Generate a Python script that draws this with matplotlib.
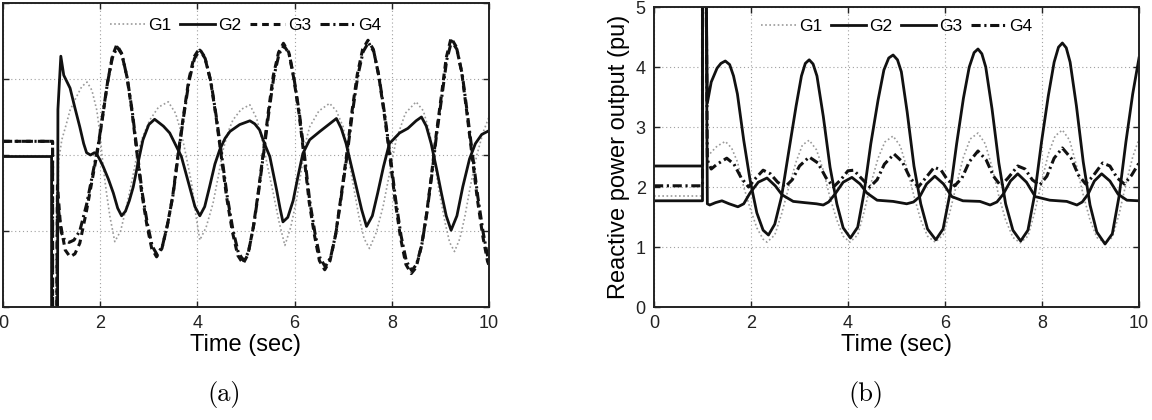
import numpy as np
import matplotlib
matplotlib.use("Agg")
from matplotlib import pyplot as plt

plt.rcParams['font.family'] = ['Liberation Sans', 'DejaVu Sans']

# ---- panel (a) data: (time, value) ----
g1a_t = [0, 1.0, 1.0, 1.12, 1.14, 1.21, 1.3, 1.38, 1.5, 1.62, 1.73, 1.83, 1.93, 2.0, 2.06, 2.13, 2.2, 2.3,
         2.42, 2.54, 2.65, 2.75, 2.88, 3.02, 3.2, 3.4, 3.55, 3.67, 3.78, 3.88, 3.97, 4.05, 4.18, 4.32, 4.43,
         4.53, 4.63, 4.73, 4.9, 5.08, 5.22, 5.35, 5.46, 5.56, 5.68, 5.8, 5.92, 6.04, 6.14, 6.24, 6.31, 6.5,
         6.72, 6.86, 7.0, 7.1, 7.2, 7.32, 7.43, 7.54, 7.68, 7.82, 7.96, 8.09, 8.28, 8.5, 8.65, 8.78, 8.88,
         8.98, 9.1, 9.19, 9.29, 9.4, 9.5, 9.62, 9.75, 9.88, 10]
g1a_v = [1.98, 1.98, -1, -1, 1.9, 2.2, 2.4, 2.59, 2.75, 2.9, 2.96, 2.85, 2.59, 2.25, 1.85, 1.5, 1.19, 0.86,
         1.0, 1.32, 1.65, 1.98, 2.25, 2.46, 2.63, 2.7, 2.55, 2.29, 1.95, 1.63, 1.2, 0.88, 1.05, 1.36, 1.72,
         2.07, 2.3, 2.46, 2.6, 2.66, 2.48, 2.15, 1.8, 1.5, 1.12, 0.81, 1.05, 1.41, 1.8, 2.2, 2.37, 2.58,
         2.68, 2.58, 2.37, 2.0, 1.63, 1.2, 0.9, 0.77, 0.98, 1.32, 1.78, 2.2, 2.55, 2.7, 2.58, 2.29, 1.9,
         1.5, 1.1, 0.85, 0.73, 0.9, 1.18, 1.6, 2.0, 2.3, 2.5]

g2a_t = [0, 1.0, 1.0, 1.12, 1.13, 1.19, 1.25, 1.38, 1.48, 1.58, 1.66, 1.72, 1.8, 1.88, 1.93, 2.0, 2.06, 2.17,
         2.27, 2.36, 2.44, 2.52, 2.6, 2.68, 2.78, 2.88, 3.0, 3.12, 3.3, 3.43, 3.5, 3.67, 3.84, 3.95, 4.05,
         4.15, 4.25, 4.36, 4.46, 4.57, 4.67, 4.87, 5.08, 5.18, 5.28, 5.38, 5.49, 5.63, 5.7, 5.76, 5.86, 5.97,
         6.07, 6.17, 6.31, 6.52, 6.7, 6.86, 6.96, 7.06, 7.17, 7.27, 7.38, 7.48, 7.6, 7.71, 7.83, 7.95, 8.16,
         8.33, 8.5, 8.61, 8.71, 8.81, 8.92, 9.02, 9.12, 9.22, 9.34, 9.46, 9.6, 9.72, 9.85, 10]
g2a_v = [1.98, 1.98, -1, -1, 2.6, 3.3, 3.05, 2.88, 2.62, 2.37, 2.15, 2.03, 2.0, 2.03, 2.01, 1.93, 1.85, 1.68,
         1.5, 1.3, 1.2, 1.26, 1.4, 1.58, 1.9, 2.2, 2.4, 2.47, 2.38, 2.29, 2.2, 1.98, 1.58, 1.32, 1.2,
         1.32, 1.58, 1.88, 2.07, 2.22, 2.31, 2.4, 2.45, 2.41, 2.33, 2.15, 1.98, 1.54, 1.3, 1.12, 1.18, 1.4,
         1.72, 2.02, 2.2, 2.31, 2.4, 2.48, 2.35, 2.15, 1.85, 1.58, 1.28, 1.06, 1.2, 1.5, 1.85, 2.15, 2.29,
         2.35, 2.45, 2.5, 2.38, 2.15, 1.82, 1.5, 1.2, 1.01, 1.2, 1.58, 1.95, 2.15, 2.27, 2.32]

g3a_t = [0, 1.02, 1.02, 1.1, 1.12, 1.18, 1.28, 1.38, 1.48, 1.58, 1.72, 1.86, 1.96, 2.05, 2.15, 2.25, 2.34,
         2.44, 2.55, 2.65, 2.75, 2.85, 2.96, 3.06, 3.16, 3.27, 3.38, 3.49, 3.6, 3.71, 3.82, 3.93, 4.04,
         4.15, 4.27, 4.38, 4.49, 4.6, 4.72, 4.83, 4.94, 5.04, 5.15, 5.25, 5.36, 5.46, 5.56, 5.67, 5.77,
         5.88, 5.98, 6.09, 6.2, 6.3, 6.41, 6.51, 6.62, 6.73, 6.84, 6.95, 7.07, 7.18, 7.29, 7.4, 7.51,
         7.62, 7.73, 7.84, 7.96, 8.07, 8.18, 8.29, 8.4, 8.5, 8.61, 8.71, 8.81, 8.91, 9.02, 9.12, 9.22,
         9.33, 9.44, 9.54, 9.65, 9.76, 9.87, 9.97, 10]
g3a_v = [2.18, 2.18, -1, -1, 1.6, 1.1, 0.75, 0.66, 0.7, 0.84, 1.27, 1.76, 2.11, 2.5, 2.95, 3.3, 3.45,
         3.34, 3.03, 2.59, 2.06, 1.52, 1.08, 0.77, 0.66, 0.77, 1.07, 1.45, 2.0, 2.5, 2.98, 3.29, 3.4,
         3.29, 2.98, 2.52, 1.99, 1.45, 0.99, 0.68, 0.57, 0.69, 1.05, 1.5, 2.05, 2.57, 3.04, 3.35, 3.47,
         3.35, 3.02, 2.55, 1.95, 1.38, 0.94, 0.61, 0.49, 0.61, 0.94, 1.43, 2.0, 2.57, 3.06, 3.39, 3.51,
         3.39, 3.05, 2.56, 1.98, 1.39, 0.91, 0.56, 0.44, 0.52, 0.8, 1.2, 1.7, 2.25, 2.78, 3.28, 3.54,
         3.42, 3.08, 2.58, 2.0, 1.42, 0.94, 0.6, 0.55]

g4a_t = [0, 1.02, 1.02, 1.1, 1.12, 1.2, 1.27, 1.36, 1.46, 1.58, 1.72, 1.86, 1.96, 2.05, 2.15, 2.25, 2.35,
         2.45, 2.56, 2.66, 2.76, 2.86, 2.97, 3.07, 3.17, 3.28, 3.39, 3.5, 3.61, 3.72, 3.83, 3.94, 4.05,
         4.16, 4.28, 4.39, 4.5, 4.61, 4.73, 4.84, 4.95, 5.05, 5.16, 5.26, 5.37, 5.47, 5.57, 5.68, 5.78,
         5.89, 5.99, 6.1, 6.21, 6.31, 6.42, 6.52, 6.63, 6.74, 6.85, 6.96, 7.08, 7.19, 7.3, 7.41, 7.52,
         7.63, 7.74, 7.85, 7.97, 8.08, 8.19, 8.3, 8.41, 8.51, 8.62, 8.72, 8.82, 8.92, 9.03, 9.13, 9.23,
         9.34, 9.45, 9.55, 9.66, 9.77, 9.88, 9.98, 10]
g4a_v = [2.18, 2.18, -1, -1, 1.4, 0.98, 0.88, 0.85, 0.88, 1.0, 1.35, 1.8, 2.13, 2.52, 2.95, 3.28, 3.42,
         3.32, 3.0, 2.57, 2.05, 1.52, 1.1, 0.8, 0.69, 0.8, 1.1, 1.48, 2.02, 2.52, 2.98, 3.27, 3.38,
         3.27, 2.96, 2.5, 1.99, 1.47, 1.02, 0.72, 0.61, 0.72, 1.08, 1.52, 2.06, 2.56, 3.02, 3.33, 3.44,
         3.33, 3.0, 2.54, 1.96, 1.4, 0.97, 0.65, 0.53, 0.65, 0.97, 1.45, 2.0, 2.56, 3.04, 3.36, 3.48,
         3.36, 3.02, 2.55, 1.98, 1.41, 0.94, 0.6, 0.48, 0.56, 0.83, 1.23, 1.72, 2.26, 2.77, 3.25, 3.5,
         3.39, 3.06, 2.57, 2.01, 1.45, 0.98, 0.64, 0.6]

# ---- panel (b) data: reactive power output (pu) ----
g1b_t = [0, 1.0, 1.0, 1.07, 1.1, 1.18, 1.3, 1.47, 1.6, 1.72, 1.85, 1.98, 2.12, 2.25, 2.33, 2.49, 2.63, 2.78,
         2.93, 3.06, 3.2, 3.35, 3.49, 3.63, 3.77, 3.9, 4.04, 4.2, 4.33, 4.47, 4.62, 4.76, 4.93, 5.08, 5.22,
         5.36, 5.5, 5.64, 5.8, 5.96, 6.1, 6.24, 6.38, 6.52, 6.68, 6.83, 6.97, 7.11, 7.25, 7.4, 7.55, 7.71,
         7.85, 7.99, 8.13, 8.27, 8.42, 8.57, 8.71, 8.85, 8.99, 9.13, 9.3, 9.45, 9.59, 9.73, 9.87, 10]
g1b_v = [1.85, 1.85, 6, 6, 2.5, 2.58, 2.68, 2.76, 2.65, 2.42, 2.0, 1.65, 1.32, 1.13, 1.08, 1.2, 1.55, 2.0,
         2.42, 2.7, 2.78, 2.62, 2.28, 1.82, 1.45, 1.18, 1.08, 1.2, 1.58, 2.05, 2.48, 2.75, 2.85, 2.68, 2.3,
         1.85, 1.45, 1.18, 1.08, 1.2, 1.58, 2.05, 2.5, 2.8, 2.9, 2.72, 2.33, 1.85, 1.45, 1.16, 1.07, 1.18,
         1.58, 2.08, 2.55, 2.85, 2.95, 2.78, 2.36, 1.87, 1.45, 1.16, 1.07, 1.16, 1.55, 2.05, 2.5, 2.8]

g2b_t = [0, 1.0, 1.0, 1.07, 1.1, 1.15, 1.27, 1.4, 1.55, 1.73, 1.85, 1.98, 2.15, 2.33, 2.5, 2.64, 2.87, 3.1,
         3.35, 3.49, 3.6, 3.73, 3.9, 4.08, 4.25, 4.39, 4.6, 4.93, 5.21, 5.35, 5.48, 5.62, 5.79, 5.97, 6.14,
         6.37, 6.72, 6.93, 7.07, 7.2, 7.35, 7.5, 7.68, 7.86, 8.16, 8.51, 8.72, 8.83, 8.95, 9.08, 9.23, 9.4,
         9.57, 9.75, 10]
g2b_v = [1.77, 1.77, 6, 6, 1.72, 1.7, 1.74, 1.77, 1.72, 1.67, 1.72, 1.9, 2.08, 2.15, 2.02, 1.87, 1.76, 1.74,
         1.72, 1.7, 1.75, 1.88, 2.08, 2.16, 2.05, 1.9, 1.78, 1.76, 1.72, 1.75, 1.84, 2.05, 2.18, 2.05, 1.84,
         1.77, 1.76, 1.7, 1.75, 1.88, 2.1, 2.22, 2.08, 1.84, 1.78, 1.76, 1.7, 1.75, 1.88, 2.1, 2.22, 2.1,
         1.88, 1.78, 1.77]

g3b_t = [0, 1.0, 1.0, 1.07, 1.1, 1.18, 1.3, 1.38, 1.47, 1.56, 1.64, 1.72, 1.85, 1.98, 2.12, 2.25, 2.36, 2.49,
         2.63, 2.78, 2.93, 3.04, 3.12, 3.2, 3.28, 3.36, 3.49, 3.63, 3.77, 3.9, 4.05, 4.2, 4.33, 4.47, 4.62,
         4.74, 4.84, 4.93, 5.02, 5.1, 5.22, 5.36, 5.5, 5.64, 5.81, 5.96, 6.1, 6.24, 6.38, 6.5, 6.6, 6.68,
         6.76, 6.84, 6.97, 7.11, 7.25, 7.4, 7.56, 7.71, 7.85, 7.99, 8.13, 8.25, 8.34, 8.42, 8.5, 8.58,
         8.71, 8.85, 8.99, 9.13, 9.3, 9.45, 9.59, 9.73, 9.87, 10]
g3b_v = [2.35, 2.35, 6, 6, 3.4, 3.75, 3.98, 4.06, 4.1, 4.04, 3.85, 3.55, 2.78, 2.12, 1.57, 1.28, 1.2, 1.38,
         1.84, 2.6, 3.35, 3.85, 4.06, 4.12, 4.05, 3.85, 3.18, 2.33, 1.72, 1.32, 1.15, 1.33, 1.9, 2.72, 3.45,
         3.95, 4.15, 4.2, 4.12, 3.92, 3.25, 2.35, 1.72, 1.3, 1.12, 1.3, 1.88, 2.72, 3.48, 4.0, 4.24, 4.3,
         4.22, 4.0, 3.3, 2.4, 1.72, 1.28, 1.1, 1.28, 1.88, 2.75, 3.52, 4.08, 4.33, 4.4, 4.32, 4.08,
         3.35, 2.42, 1.7, 1.25, 1.05, 1.22, 1.85, 2.75, 3.55, 4.15]

g4b_t = [0, 1.0, 1.0, 1.07, 1.1, 1.18, 1.3, 1.5, 1.65, 1.8, 1.95, 2.1, 2.25, 2.4, 2.55, 2.7, 2.85, 3.0, 3.2,
         3.38, 3.55, 3.7, 3.85, 4.0, 4.12, 4.27, 4.45, 4.6, 4.75, 4.95, 5.12, 5.28, 5.45, 5.6, 5.78, 5.92,
         6.05, 6.2, 6.35, 6.5, 6.68, 6.85, 7.0, 7.15, 7.3, 7.5, 7.65, 7.8, 7.95, 8.1, 8.25, 8.42, 8.6, 8.75,
         8.9, 9.05, 9.25, 9.4, 9.55, 9.7, 9.85, 10]
g4b_v = [2.02, 2.02, 6, 6, 2.45, 2.3, 2.38, 2.48, 2.38, 2.15, 2.0, 2.15, 2.28, 2.22, 2.08, 2.0, 2.12, 2.35, 2.5,
         2.4, 2.15, 2.0, 2.12, 2.27, 2.28, 2.15, 2.0, 2.12, 2.38, 2.55, 2.42, 2.15, 2.0, 2.15, 2.33, 2.28,
         2.12, 2.02, 2.15, 2.42, 2.6, 2.45, 2.18, 2.02, 2.15, 2.35, 2.3, 2.12, 2.03, 2.18, 2.48, 2.65, 2.48, 2.2,
         2.05, 2.18, 2.4, 2.35, 2.15, 2.05, 2.2, 2.4]

labels = ['G1', 'G2', 'G3', 'G4']
xticks = [0, 2, 4, 6, 8, 10]

fig = plt.figure(figsize=(11.52, 4.2), dpi=100)
ax1 = fig.add_axes([3 / 1152, 113 / 420, 486 / 1152, 304 / 420])
ax2 = fig.add_axes([654 / 1152, 113 / 420, 485 / 1152, 300 / 420])

ink = '#111111'
smooth = dict(solid_joinstyle='round', dash_joinstyle='round')
styles = [dict(color='#9a9a9a', lw=1.2, ls=(0, (1, 1.5))),
          dict(color=ink, lw=2.0, ls='-'),
          dict(color=ink, lw=2.2, ls=(0, (2.2, 1.6))),
          dict(color=ink, lw=2.2, ls=(0, (3, 1.2, 0.7, 1.2)))]

# panel (a)
for t, v, lab, st in zip([g1a_t, g2a_t, g3a_t, g4a_t], [g1a_v, g2a_v, g3a_v, g4a_v], labels, styles):
    ax1.plot(t, v, label=lab, **st, **smooth)
ax1.set_ylim(0, 4)
ax1.set_yticks([0, 1, 2, 3, 4])
ax1.set_yticklabels([])

# panel (b): G3 drawn solid here
styles_b = [styles[0], styles[1], dict(color=ink, lw=2.0, ls='-'), styles[3]]
for t, v, lab, st in zip([g1b_t, g2b_t, g3b_t, g4b_t], [g1b_v, g2b_v, g3b_v, g4b_v], labels, styles_b):
    ax2.plot(t, v, label=lab, **st, **smooth)
ax2.set_ylim(0, 5)
ax2.set_yticks([0, 1, 2, 3, 4, 5])
ax2.set_ylabel('Reactive power output (pu)', fontsize=17, labelpad=4)

for ax, ly in [(ax1, 1 - 22 / 304), (ax2, 1 - 19 / 300)]:
    ax.set_xlim(0, 10)
    ax.set_xticks(xticks)
    ax.set_xlabel('Time (sec)', fontsize=17, labelpad=1)
    ax.grid(True, ls=(0, (1, 2.5)), color='#a0a0a0', lw=0.8)
    ax.tick_params(direction='in', top=True, right=True, length=4, width=1,
                   labelsize=13, pad=6, colors='#222222')
    for s in ax.spines.values():
        s.set_linewidth(1.4)
        s.set_color('#222222')
    ax.legend(loc='center', bbox_to_anchor=(0.5, ly), ncol=4, frameon=False,
              fontsize=12.5, handlelength=2.0, handletextpad=0.2, columnspacing=0.5,
              borderpad=0, borderaxespad=0)

fig.text(224 / 1152, 1 - 395 / 420, '(a)', family='cmr10', fontsize=19, ha='center', va='center')
fig.text(866 / 1152, 1 - 395 / 420, '(b)', family='cmr10', fontsize=19, ha='center', va='center')

plt.savefig('out.png', dpi=100)
